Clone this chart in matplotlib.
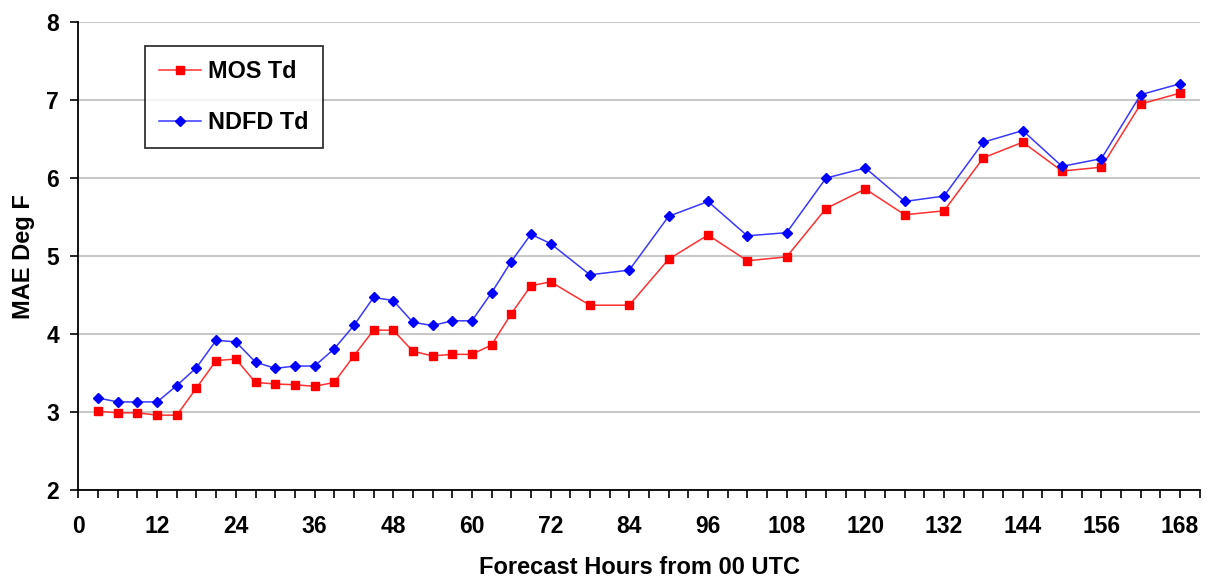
import matplotlib.pyplot as plt
from matplotlib.ticker import MultipleLocator

plt.rcParams['font.family'] = ['Liberation Sans', 'DejaVu Sans']

hours = [3, 6, 9, 12, 15, 18, 21, 24, 27, 30, 33, 36, 39, 42, 45, 48, 51, 54, 57, 60,
         63, 66, 69, 72, 78, 84, 90, 96, 102, 108, 114, 120, 126, 132, 138, 144,
         150, 156, 162, 168]
mos_td = [3.01, 2.99, 2.99, 2.96, 2.96, 3.31, 3.66, 3.68, 3.38, 3.36, 3.35, 3.33,
          3.38, 3.72, 4.05, 4.05, 3.78, 3.72, 3.74, 3.74,
          3.86, 4.26, 4.62, 4.67, 4.37, 4.37, 4.96, 5.27, 4.94, 4.99, 5.61, 5.86,
          5.53, 5.58, 6.26, 6.46, 6.09, 6.14, 6.95, 7.09]
ndfd_td = [3.18, 3.13, 3.13, 3.13, 3.34, 3.57, 3.92, 3.90, 3.64, 3.56, 3.59, 3.59,
           3.81, 4.11, 4.47, 4.43, 4.15, 4.11, 4.17, 4.17,
           4.53, 4.93, 5.28, 5.16, 4.76, 4.82, 5.51, 5.70, 5.26, 5.30, 6.00, 6.13,
           5.70, 5.77, 6.46, 6.61, 6.15, 6.25, 7.07, 7.21]

fig = plt.figure(figsize=(12.07, 5.82), dpi=100)
ax = fig.add_axes([0.065, 0.158, 0.929, 0.804])

ax.plot(hours, mos_td, color='#ff3030', lw=1.1, marker='s', ms=5.8,
        mfc='red', mec='red', label='MOS Td')
ax.plot(hours, ndfd_td, color='#3838ff', lw=1.1, marker='D', ms=5.2,
        mfc='blue', mec='blue', label='NDFD Td')

ax.set_xlim(0, 171)
ax.set_ylim(2, 8)
ax.xaxis.set_major_locator(MultipleLocator(12))
ax.xaxis.set_minor_locator(MultipleLocator(3))
ax.yaxis.set_major_locator(MultipleLocator(1))

ax.grid(axis='y', color='#c8c8c8', lw=1.5)
ax.set_axisbelow(True)
for s in ['top', 'right']:
    ax.spines[s].set_visible(False)
ax.spines['left'].set_linewidth(1.3)
ax.spines['bottom'].set_linewidth(1.3)

ax.tick_params(axis='both', which='major', length=6, width=1.2, labelsize=16.5)
ax.tick_params(axis='x', which='major', pad=12)
ax.tick_params(axis='y', which='major', pad=8)
ax.tick_params(axis='x', which='minor', length=6, width=1.2)
for lab in ax.get_xticklabels() + ax.get_yticklabels():
    lab.set_fontweight('bold')

ax.set_xlabel('Forecast Hours from 00 UTC', fontsize=17, fontweight='bold', labelpad=13)
ax.set_ylabel('MAE Deg F', fontsize=17, fontweight='bold', labelpad=8)

leg = ax.legend(loc='upper left', bbox_to_anchor=(0.059, 0.95),
                prop={'weight': 'bold', 'size': 16.8}, frameon=True, fancybox=False,
                handlelength=1.8, labelspacing=1.2, borderpad=0.62, handletextpad=0.3,
                borderaxespad=0)
leg.get_frame().set_edgecolor('black')
leg.get_frame().set_linewidth(1.3)

fig.savefig('out.png', dpi=100)
